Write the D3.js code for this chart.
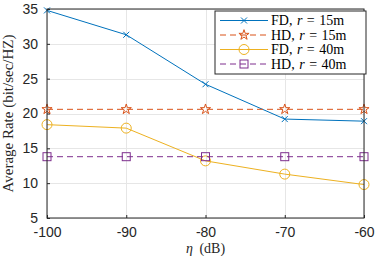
<!DOCTYPE html>
<html lang="en">
<head>
  <meta charset="UTF-8">
  <title>Average Rate vs eta</title>
  <style>
      body { margin: 0; background: #fff; }
      .grid line { stroke: #e6e6e6; shape-rendering: crispEdges; }
      .grid path { stroke-width: 0; }
      .axis text { font: 14px "Liberation Sans", Arial, sans-serif; fill: #262626; }
      .axis path, .axis line { stroke: #262626; }
  </style>
</head>
<body>
<div id="chart"></div>
<script src="https://d3js.org/d3.v7.min.js"></script>
<script>
  const etas = [-100, -90, -80, -70, -60];
  const fd15 = [34.8, 31.3, 24.2, 19.2, 18.9];
  const hd15 = [20.6, 20.6, 20.6, 20.6, 20.6];
  const fd40 = [18.4, 17.9, 13.2, 11.3, 9.8];
  const hd40 = [13.8, 13.8, 13.8, 13.8, 13.8];
  const yTicks = [5, 10, 15, 20, 25, 30, 35];
  const seriesNames = ["FD", "HD", "FD", "HD"];
  const seriesR = ["15m", "15m", "40m", "40m"];

  const margin = {top: 9, right: 11, bottom: 38, left: 47},
    width = 375 - margin.left - margin.right,
    height = 256 - margin.top - margin.bottom;

  const svg = d3.select("#chart").append("svg")
    .attr("width", 375)
    .attr("height", 256)
    .append("g")
    .attr("transform", `translate(${margin.left},${margin.top})`);

  const x = d3.scaleLinear().domain([-100, -60]).range([0, width]);
  const y = d3.scaleLinear().domain([5, 35]).range([height, 0]);

  svg.append("g").attr("class", "grid")
    .attr("transform", `translate(0,${height})`)
    .call(d3.axisBottom(x).tickValues(etas).tickSize(-height).tickFormat(""));
  svg.append("g").attr("class", "grid")
    .call(d3.axisLeft(y).tickValues(yTicks).tickSize(-width).tickFormat(""));

  const series = [
    {vals: fd15, color: "#0072BD", dash: null, marker: "x"},
    {vals: hd15, color: "#D95319", dash: "6,4", marker: "star"},
    {vals: fd40, color: "#EDB120", dash: null, marker: "circle"},
    {vals: hd40, color: "#7E2F8E", dash: "6,4", marker: "square"}
  ];

  function drawMarker(g, type, cx, cy, color) {
    if (type === "x") {
      g.append("path").attr("d", `M${cx-3},${cy-3}L${cx+3},${cy+3}M${cx-3},${cy+3}L${cx+3},${cy-3}`)
        .attr("stroke", color).attr("stroke-width", 1).attr("fill", "none");
    } else if (type === "star") {
      g.append("path").attr("d", d3.symbol(d3.symbolStar, 32)())
        .attr("transform", `translate(${cx},${cy})`)
        .attr("stroke", color).attr("stroke-width", 1).attr("fill", "none");
    } else if (type === "circle") {
      g.append("circle").attr("cx", cx).attr("cy", cy).attr("r", 5)
        .attr("stroke", color).attr("stroke-width", 1).attr("fill", "none");
    } else {
      g.append("rect").attr("x", cx - 4).attr("y", cy - 4).attr("width", 8).attr("height", 8)
        .attr("stroke", color).attr("stroke-width", 1).attr("fill", "none");
    }
  }

  const line = d3.line().x((d, i) => x(etas[i])).y(d => y(d));

  series.forEach(s => {
    svg.append("path").datum(s.vals)
      .attr("d", line)
      .attr("fill", "none")
      .attr("stroke", s.color)
      .attr("stroke-width", 1)
      .attr("stroke-dasharray", s.dash);
    const mg = svg.append("g");
    s.vals.forEach((v, i) => drawMarker(mg, s.marker, x(etas[i]), y(v), s.color));
  });

  // box + axes
  svg.append("rect").attr("width", width).attr("height", height)
    .attr("fill", "none").attr("stroke", "#262626").attr("stroke-width", 1);

  svg.append("g").attr("class", "axis")
    .attr("transform", `translate(0,${height})`)
    .call(d3.axisBottom(x).tickValues(etas).tickSize(-3).tickPadding(9).tickFormat(d => String(d)))
    .call(g => g.select(".domain").remove());
  svg.append("g").attr("class", "axis")
    .call(d3.axisLeft(y).tickValues(yTicks).tickSize(-3).tickPadding(9).tickFormat(d => String(d)))
    .call(g => g.select(".domain").remove());

  svg.append("text")
    .attr("x", width / 2).attr("y", 253 - margin.top)
    .attr("text-anchor", "middle")
    .style("font", "14px 'Liberation Serif', 'DejaVu Serif', serif")
    .style("fill", "#262626")
    .style("word-spacing", "3px")
    .html('<tspan font-style="italic">η</tspan> (dB)');

  svg.append("text")
    .attr("transform", `translate(${-34},${height / 2}) rotate(-90)`)
    .attr("text-anchor", "middle")
    .style("font", "15px 'Liberation Serif', 'DejaVu Serif', serif")
    .style("fill", "#262626")
    .text("Average Rate (bit/sec/HZ)");

  // legend
  const lg = svg.append("g").attr("transform", `translate(${215 - margin.left},${11 - margin.top})`);
  lg.append("rect").attr("width", 151).attr("height", 63)
    .attr("fill", "#fff").attr("stroke", "#262626").attr("stroke-width", 1);
  series.forEach((s, i) => {
    const ly = 9.5 + i * 14.5;
    lg.append("line").attr("x1", 5).attr("x2", 53).attr("y1", ly).attr("y2", ly)
      .attr("stroke", s.color).attr("stroke-width", 1).attr("stroke-dasharray", s.dash);
    drawMarker(lg, s.marker, 29, ly, s.color);
    lg.append("text").attr("x", 56).attr("y", ly + 4.5)
      .style("font", "14px 'Liberation Serif', 'DejaVu Serif', serif")
      .style("fill", "#000")
      .style("word-spacing", "1px")
      .html(`${seriesNames[i]}, <tspan font-style="italic">r</tspan> = ${seriesR[i]}`);
  });
</script>
</body>
</html>
